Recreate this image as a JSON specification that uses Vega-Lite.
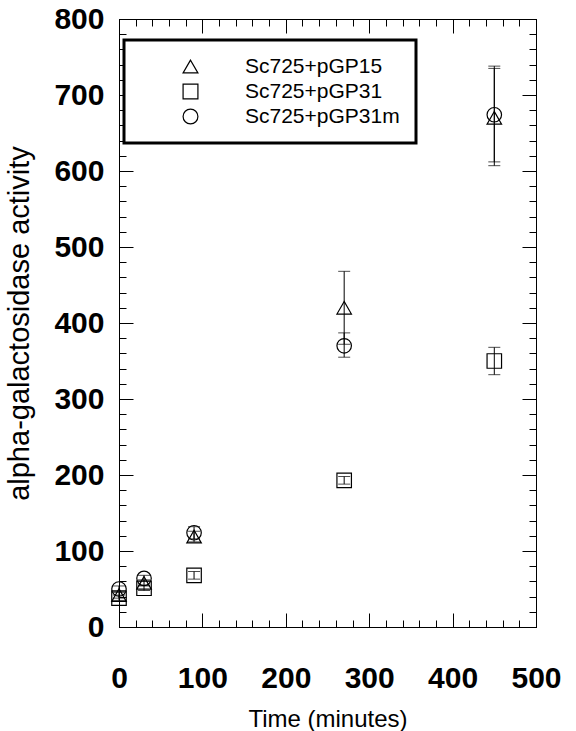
{
  "$schema": "https://vega.github.io/schema/vega-lite/v6.json",
  "width": 417,
  "height": 608,
  "autosize": "none",
  "padding": {"left": 119, "top": 19, "right": 40, "bottom": 104},
  "background": "white",
  "config": {
    "view": {"stroke": "black", "strokeWidth": 1},
    "axis": {"grid": false, "domainColor": "black", "tickColor": "black", "tickWidth": 1, "labelColor": "black", "titleColor": "black", "labelFont": "Liberation Sans", "titleFont": "Liberation Sans", "labelFlush": false, "labelOverlap": false},
    "legend": {"strokeWidth": 3}
  },
  "data": {
    "values": [
      {"series": "Sc725+pGP15", "time": 0, "value": 42, "lo": 38, "hi": 46},
      {"series": "Sc725+pGP15", "time": 30, "value": 58, "lo": 54, "hi": 62},
      {"series": "Sc725+pGP15", "time": 90, "value": 119, "lo": 112, "hi": 126},
      {"series": "Sc725+pGP15", "time": 270, "value": 420, "lo": 372, "hi": 468},
      {"series": "Sc725+pGP15", "time": 450, "value": 670, "lo": 607, "hi": 735},
      {"series": "Sc725+pGP31", "time": 0, "value": 38, "lo": 35, "hi": 42},
      {"series": "Sc725+pGP31", "time": 30, "value": 51, "lo": 48, "hi": 55},
      {"series": "Sc725+pGP31", "time": 90, "value": 68, "lo": 63, "hi": 73},
      {"series": "Sc725+pGP31", "time": 270, "value": 193, "lo": 188, "hi": 198},
      {"series": "Sc725+pGP31", "time": 450, "value": 350, "lo": 332, "hi": 368},
      {"series": "Sc725+pGP31m", "time": 0, "value": 50, "lo": 46, "hi": 54},
      {"series": "Sc725+pGP31m", "time": 30, "value": 64, "lo": 60, "hi": 68},
      {"series": "Sc725+pGP31m", "time": 90, "value": 124, "lo": 116, "hi": 132},
      {"series": "Sc725+pGP31m", "time": 270, "value": 370, "lo": 355, "hi": 387},
      {"series": "Sc725+pGP31m", "time": 450, "value": 674, "lo": 612, "hi": 738}
    ]
  },
  "layer": [
    {
      "mark": {"type": "rule", "color": "black", "strokeWidth": 1},
      "encoding": {
        "x": {"field": "time", "type": "quantitative", "scale": {"domain": [0, 500], "nice": false, "zero": false},
          "axis": {"orient": "bottom", "values": [0, 100, 200, 300, 400, 500], "tickSize": -14, "labelPadding": 50, "labelFontSize": 30, "labelFontWeight": "bold", "title": "Time (minutes)", "titleFontSize": 24, "titleFontWeight": "normal", "titlePadding": 14}},
        "y": {"field": "lo", "type": "quantitative", "scale": {"domain": [0, 800], "nice": false},
          "axis": {"orient": "left", "values": [0, 100, 200, 300, 400, 500, 600, 700, 800], "tickSize": -14, "labelPadding": 29, "labelFontSize": 30, "labelFontWeight": "bold", "title": "alpha-galactosidase activity", "titleFontSize": 29, "titleFontWeight": "normal", "titlePadding": 19}},
        "y2": {"field": "hi"}
      }
    },
    {
      "mark": {"type": "tick", "color": "black", "size": 12, "thickness": 1, "orient": "horizontal"},
      "encoding": {
        "x": {"field": "time", "type": "quantitative",
          "axis": {"orient": "bottom", "values": [0,20,40,60,80,100,120,140,160,180,200,220,240,260,280,300,320,340,360,380,400,420,440,460,480,500], "tickSize": -7, "labels": false, "title": null, "domain": false}},
        "y": {"field": "lo", "type": "quantitative",
          "axis": {"orient": "left", "values": [0,20,40,60,80,100,120,140,160,180,200,220,240,260,280,300,320,340,360,380,400,420,440,460,480,500,520,540,560,580,600,620,640,660,680,700,720,740,760,780,800], "tickSize": -7, "labels": false, "title": null, "domain": false}}
      }
    },
    {
      "mark": {"type": "tick", "color": "black", "size": 12, "thickness": 1, "orient": "horizontal"},
      "encoding": {
        "x": {"field": "time", "type": "quantitative",
          "axis": {"orient": "top", "values": [0, 100, 200, 300, 400, 500], "tickSize": -14, "labels": false, "title": null}},
        "y": {"field": "hi", "type": "quantitative",
          "axis": {"orient": "right", "values": [0, 100, 200, 300, 400, 500, 600, 700, 800], "tickSize": -14, "labels": false, "title": null}}
      }
    },
    {
      "mark": {"type": "point", "filled": false, "color": "black", "strokeWidth": 1.2, "size": 210, "opacity": 1},
      "encoding": {
        "x": {"field": "time", "type": "quantitative",
          "axis": {"orient": "top", "values": [0,20,40,60,80,100,120,140,160,180,200,220,240,260,280,300,320,340,360,380,400,420,440,460,480,500], "tickSize": -7, "labels": false, "title": null, "domain": false}},
        "y": {"field": "value", "type": "quantitative",
          "axis": {"orient": "right", "values": [0,20,40,60,80,100,120,140,160,180,200,220,240,260,280,300,320,340,360,380,400,420,440,460,480,500,520,540,560,580,600,620,640,660,680,700,720,740,760,780,800], "tickSize": -7, "labels": false, "title": null, "domain": false}},
        "shape": {"field": "series", "type": "nominal",
          "scale": {"domain": ["Sc725+pGP15", "Sc725+pGP31", "Sc725+pGP31m"], "range": ["triangle-up", "square", "circle"]},
          "legend": {"orient": "none", "legendX": 5, "legendY": 21, "title": null, "labelFontSize": 21, "labelFont": "Liberation Sans", "labelColor": "black", "labelLimit": 300, "strokeColor": "black", "fillColor": "white", "padding": 16, "symbolOffset": 40, "rowPadding": 3, "symbolSize": 220, "symbolStrokeWidth": 1.2, "symbolStrokeColor": "black", "symbolFillColor": "transparent", "labelOffset": 44}}
      }
    }
  ],
  "resolve": {"axis": {"x": "independent", "y": "independent"}}
}
